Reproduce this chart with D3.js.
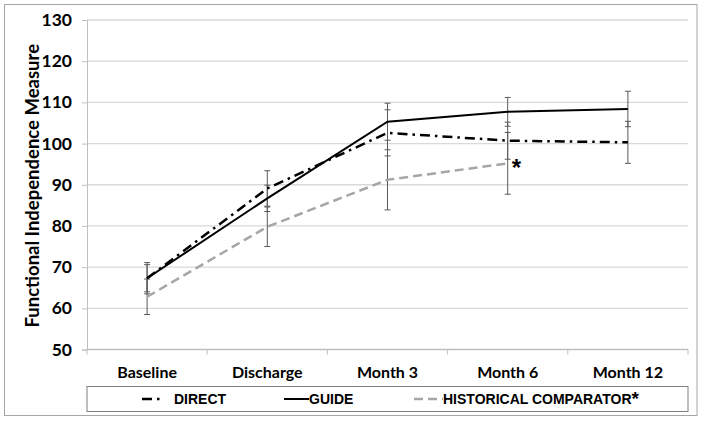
<!DOCTYPE html>
<html>
<head>
<meta charset="utf-8">
<script src="https://cdn.jsdelivr.net/npm/d3@7"></script>
<style>
  body { margin: 0; background: #fff; }
  svg { display: block; }
</style>
</head>
<body>
<svg id="chart"></svg>
<script>
// values
const categories = ['Baseline', 'Discharge', 'Month 3', 'Month 6', 'Month 12'];
const directMean = [67.3, 89.1, 102.6, 100.7, 100.3];
const directErr = [3.8, 4.3, 5.6, 4.5, 5.1];
const guideMean = [67.3, 86.7, 105.3, 107.7, 108.4];
const guideErr = [3.3, 3.2, 4.5, 3.5, 4.3];
const histMean = [62.8, 79.8, 91.2, 95.2, null];
const histErr = [4.3, 4.8, 7.3, 7.5, null];
const yTicks = [50, 60, 70, 80, 90, 100, 110, 120, 130];

const width = 704, height = 421;
const plot = {left: 87, right: 688, top: 20, bottom: 349.5};

const svg = d3.select('#chart')
    .attr('width', width)
    .attr('height', height);

// outer chart border
svg.append('rect')
    .attr('x', 4.5).attr('y', 4.5)
    .attr('width', 692.5).attr('height', 411)
    .attr('fill', '#fff')
    .attr('stroke', '#a6a6a6');

const x = d3.scaleBand()
    .domain(categories)
    .range([plot.left, plot.right]);

const y = d3.scaleLinear()
    .domain([50, 130])
    .range([plot.bottom, plot.top]);

const cx = d => x(d) + x.bandwidth() / 2;

// gridlines
svg.append('g')
    .selectAll('line')
    .data(yTicks.filter(t => t > 50))
    .enter().append('line')
    .attr('x1', plot.left).attr('x2', plot.right)
    .attr('y1', d => y(d)).attr('y2', d => y(d))
    .attr('stroke', '#d9d9d9')
    .attr('stroke-width', 1.3);

// y axis
const yAxis = svg.append('g')
    .attr('transform', `translate(${plot.left},0)`)
    .call(d3.axisLeft(y).tickValues(yTicks).tickSize(5).tickPadding(10));
yAxis.select('.domain').attr('stroke', '#bfbfbf');
yAxis.selectAll('.tick line').attr('stroke', '#bfbfbf');
yAxis.selectAll('text')
    .attr('font-family', 'Lato, sans-serif')
    .attr('font-weight', 'bold')
    .attr('font-size', 17.5)
    .attr('fill', '#000');

// x axis with ticks at category boundaries
svg.append('line')
    .attr('x1', plot.left).attr('x2', plot.right)
    .attr('y1', plot.bottom).attr('y2', plot.bottom)
    .attr('stroke', '#bfbfbf').attr('stroke-width', 1.3);
svg.append('g')
    .selectAll('line')
    .data(categories.concat(['end']))
    .enter().append('line')
    .attr('x1', (d, i) => plot.left + i * x.bandwidth())
    .attr('x2', (d, i) => plot.left + i * x.bandwidth())
    .attr('y1', plot.bottom).attr('y2', plot.bottom + 5)
    .attr('stroke', '#bfbfbf');
svg.append('g')
    .selectAll('text')
    .data(categories)
    .enter().append('text')
    .attr('x', d => cx(d))
    .attr('y', 378)
    .attr('text-anchor', 'middle')
    .attr('font-family', 'Lato, sans-serif')
    .attr('font-weight', 'bold')
    .attr('font-size', 16)
    .text(d => d);

// y axis title
svg.append('text')
    .attr('transform', `translate(39,${(plot.top + plot.bottom) / 2 + 1}) rotate(-90)`)
    .attr('text-anchor', 'middle')
    .attr('font-family', 'Lato, sans-serif')
    .attr('font-weight', 'bold')
    .attr('font-size', 18.5)
    .text('Functional Independence Measure');

const series = [
    {name: 'HISTORICAL COMPARATOR', mean: histMean, err: histErr, color: '#a6a6a6', dash: '9,5', w: 2.5},
    {name: 'GUIDE', mean: guideMean, err: guideErr, color: '#000', dash: null, w: 2},
    {name: 'DIRECT', mean: directMean, err: directErr, color: '#000', dash: '10,5,2.5,5', w: 2.5}
];

// error bars
series.forEach(s => {
    const pts = categories.map((c, i) => ({c, m: s.mean[i], e: s.err[i]})).filter(p => p.m != null);
    const g = svg.append('g').attr('stroke', '#595959').attr('stroke-width', 1);
    g.selectAll('line.v').data(pts).enter().append('line')
        .attr('x1', p => cx(p.c)).attr('x2', p => cx(p.c))
        .attr('y1', p => y(p.m - p.e)).attr('y2', p => y(p.m + p.e));
    g.selectAll('line.lo').data(pts).enter().append('line')
        .attr('x1', p => cx(p.c) - 3).attr('x2', p => cx(p.c) + 3)
        .attr('y1', p => y(p.m - p.e)).attr('y2', p => y(p.m - p.e));
    g.selectAll('line.hi').data(pts).enter().append('line')
        .attr('x1', p => cx(p.c) - 3).attr('x2', p => cx(p.c) + 3)
        .attr('y1', p => y(p.m + p.e)).attr('y2', p => y(p.m + p.e));
});

// lines
const line = d3.line()
    .defined(d => d.m != null)
    .x(d => cx(d.c))
    .y(d => y(d.m));

series.forEach(s => {
    svg.append('path')
        .datum(categories.map((c, i) => ({c, m: s.mean[i]})))
        .attr('d', line)
        .attr('fill', 'none')
        .attr('stroke', s.color)
        .attr('stroke-width', s.w)
        .attr('stroke-dasharray', s.dash);
});

// significance marker at last historical point
svg.append('text')
    .attr('x', cx('Month 6') + 4)
    .attr('y', y(histMean[3]) + 13)
    .attr('font-family', 'Liberation Sans, Arial, sans-serif')
    .attr('font-weight', 'bold')
    .attr('font-size', 24)
    .text('*');

// legend
const legend = svg.append('g');
legend.append('rect')
    .attr('x', plot.left).attr('y', 386.5)
    .attr('width', plot.right - plot.left).attr('height', 25)
    .attr('fill', '#fff')
    .attr('stroke', '#7f7f7f');

const legendItems = [
    {s: series[2], x0: 142, x1: 164, tx: 174, label: 'DIRECT'},
    {s: series[1], x0: 284, x1: 309, tx: 309, label: 'GUIDE'},
    {s: series[0], x0: 414, x1: 443, tx: 443, label: 'HISTORICAL COMPARATOR', star: true}
];
legendItems.forEach(it => {
    legend.append('line')
        .attr('x1', it.x0).attr('x2', it.x1)
        .attr('y1', 399).attr('y2', 399)
        .attr('stroke', it.s.color)
        .attr('stroke-width', it.s.w)
        .attr('stroke-dasharray', it.s.dash);
    const t = legend.append('text')
        .attr('x', it.tx).attr('y', 404)
        .attr('font-family', 'Liberation Sans, Arial, sans-serif')
        .attr('font-weight', 'bold')
        .attr('font-size', 14)
        .text(it.label);
    if (it.star) {
        t.append('tspan')
            .attr('font-size', 19)
            .attr('dy', 1)
            .text('*');
    }
});
</script>
</body>
</html>
